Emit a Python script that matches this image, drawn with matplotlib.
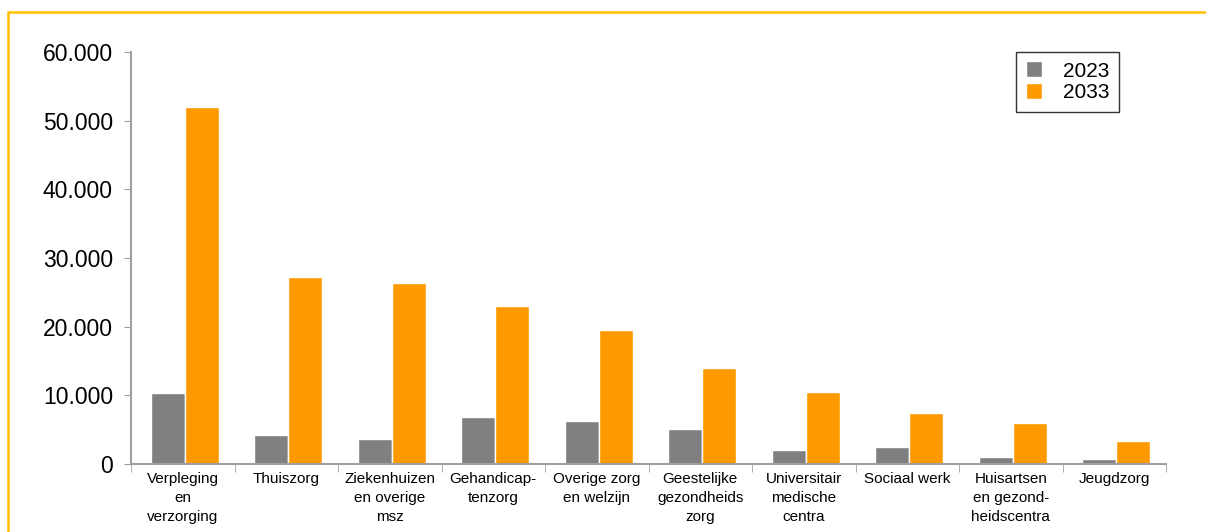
import numpy as np
import matplotlib
matplotlib.use("Agg")
import matplotlib.pyplot as plt
from matplotlib.patches import Rectangle
from matplotlib.ticker import FuncFormatter, FixedLocator

plt.rcParams['font.family'] = ['Liberation Sans', 'DejaVu Sans']

categories = [
    "Verpleging\nen\nverzorging", "Thuiszorg", "Ziekenhuizen\nen overige\nmsz",
    "Gehandicap-\ntenzorg", "Overige zorg\nen welzijn", "Geestelijke\ngezondheids\nzorg",
    "Universitair\nmedische\ncentra", "Sociaal werk", "Huisartsen\nen gezond-\nheidscentra",
    "Jeugdzorg",
]
values_2023 = [10300, 4200, 3700, 6900, 6200, 5100, 2000, 2500, 1000, 700]
values_2033 = [52000, 27200, 26400, 23000, 19500, 14000, 10500, 7400, 5900, 3350]
years = ["2023", "2033"]
colors = ["#808080", "#FF9900"]

fig = plt.figure(figsize=(12.06, 5.32), dpi=100)
ax = fig.add_axes([131 / 1206, 1 - 464 / 532, (1166 - 131) / 1206, (464 - 52) / 532])

x = np.arange(len(categories))
w = 0.33
ax.bar(x - w / 2 + 0.02, values_2023, w, color=colors[0], edgecolor="white", linewidth=1, label=years[0])
ax.bar(x + w / 2 + 0.02, values_2033, w, color=colors[1], edgecolor="white", linewidth=1, label=years[1])

ax.set_xlim(-0.5, len(categories) - 0.5)
ax.set_ylim(0, 60000)
ax.set_yticks(np.arange(0, 60001, 10000))
ax.yaxis.set_major_formatter(FuncFormatter(lambda v, _: f"{int(v):,}".replace(",", ".")))
ax.tick_params(axis="y", labelsize=16.5, length=5, color="#a0a0a0", pad=8)

ax.set_xticks(x)
ax.set_xticklabels(categories, fontsize=11, linespacing=1.45, va="top")
ax.xaxis.set_minor_locator(FixedLocator(np.arange(-0.5, len(categories), 1.0)))
ax.tick_params(axis="x", which="major", length=0, pad=6)
ax.tick_params(axis="x", which="minor", length=6, color="#a0a0a0")

for side in ("top", "right"):
    ax.spines[side].set_visible(False)
for side in ("left", "bottom"):
    ax.spines[side].set_color("#a0a0a0")
    ax.spines[side].set_linewidth(1.5)

leg = ax.legend(loc="upper right", bbox_to_anchor=(1119 / 1206, 1 - 52 / 532), bbox_transform=fig.transFigure,
                fontsize=15, frameon=True, fancybox=False, borderpad=0.45, handlelength=0.8,
                handleheight=0.8, handletextpad=1.0, labelspacing=0.12, borderaxespad=0)
leg.get_frame().set_edgecolor("black")
leg.get_frame().set_linewidth(1)

# gold frame around the chart
fig.patches.append(Rectangle((8 / 1206, -0.05), 1.2, 1 - 12 / 532 + 0.05, transform=fig.transFigure,
                             fill=False, edgecolor="#FFC000", linewidth=1.8))

fig.savefig("out.png", dpi=100)
